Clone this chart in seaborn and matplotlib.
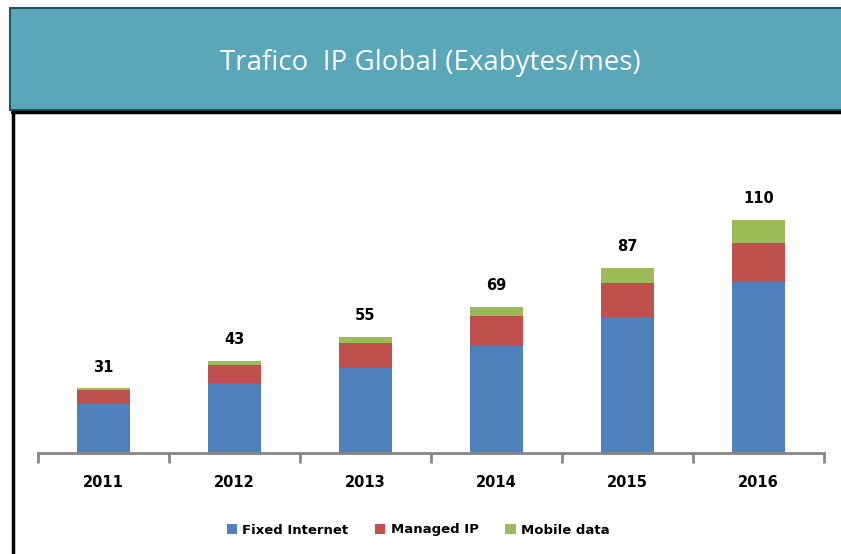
import numpy as np
import pandas as pd
import matplotlib
matplotlib.use("Agg")
import matplotlib.pyplot as plt
from matplotlib.patches import Rectangle
import seaborn as sns

# data (Exabytes per month)
years = ["2011", "2012", "2013", "2014", "2015", "2016"]
fixed_internet = [23.1, 33.0, 40.3, 50.5, 64.2, 80.7]
managed_ip = [6.8, 8.5, 11.7, 14.2, 16.0, 18.4]
mobile_data = [0.6, 1.9, 2.8, 4.2, 7.1, 10.9]
totals = [31, 43, 55, 69, 87, 110]
series_names = ["Fixed Internet", "Managed IP", "Mobile data"]

# colours
blue = "#4F81BD"
red = "#C0504D"
green = "#9BBB59"
teal = "#5BA7BA"

df = pd.DataFrame({
    "year": years,
    "fixed": fixed_internet,
    "managed": managed_ip,
    "mobile": mobile_data,
})
df["lvl2"] = df["fixed"] + df["managed"]
df["lvl3"] = df["lvl2"] + df["mobile"]

sns.set_style("white")
plt.rcParams["font.family"] = ["DejaVu Sans"]
plt.rcParams["text.color"] = "black"
plt.rcParams["xtick.color"] = "black"

W, H = 841, 554
fig = plt.figure(figsize=(W / 100, H / 100), dpi=100)

# banner and frame
fig.patches.append(Rectangle((10 / W, 1 - 110 / H), 840 / W, 102 / H,
                             transform=fig.transFigure, facecolor=teal,
                             edgecolor="#1F5464", linewidth=1.5, zorder=0))
fig.add_artist(plt.Line2D([13 / W, 13 / W], [0, 1 - 112 / H], color="black",
                          linewidth=2.5, transform=fig.transFigure))
fig.add_artist(plt.Line2D([12 / W, 1], [1 - 112 / H, 1 - 112 / H], color="black",
                          linewidth=2.5, transform=fig.transFigure))
fig.text(430 / W, 1 - 63 / H, "Trafico  IP Global (Exabytes/mes)", color="white",
         fontsize=20, ha="center", va="center", family=["Open Sans", "DejaVu Sans"])

# plot area
left, right = 38, 824
base, top = 453, 150
ax = fig.add_axes([left / W, 1 - base / H, (right - left) / W, (base - top) / H])
ax.set_facecolor("none")

px_per_unit = 2.118
ymax = (base - top) / px_per_unit

# stacked bars drawn back to front
bar_kw = dict(width=0.41, saturation=1, linewidth=0, ax=ax)
sns.barplot(data=df, x="year", y="lvl3", color=green, label=series_names[2], **bar_kw)
sns.barplot(data=df, x="year", y="lvl2", color=red, label=series_names[1], **bar_kw)
sns.barplot(data=df, x="year", y="fixed", color=blue, label=series_names[0], **bar_kw)
if ax.get_legend() is not None:
    ax.get_legend().remove()

for i, t in enumerate(totals):
    ax.annotate(str(t), (i, df["lvl3"][i]), xytext=(0, 10), textcoords="offset points",
                ha="center", va="bottom", fontsize=10.5, fontweight="bold", color="black")

ax.set_xlim(-0.5, len(years) - 0.5)
ax.set_ylim(0, ymax)
ax.set_xlabel("")
ax.set_ylabel("")
ax.set_yticks([])
for s in ["top", "left", "right"]:
    ax.spines[s].set_visible(False)
ax.spines["bottom"].set_color("#868686")
ax.spines["bottom"].set_linewidth(2)
ax.set_xticks(np.arange(-0.5, len(years), 1.0), minor=True)
ax.tick_params(axis="x", which="minor", bottom=True, length=7, width=2,
               color="#868686", direction="out")
ax.tick_params(axis="x", which="major", length=0, pad=16, labelsize=10.5, labelcolor="black")
for lab in ax.get_xticklabels():
    lab.set_fontweight("bold")

handles, labels = ax.get_legend_handles_labels()
order = [labels.index(n) for n in series_names]
leg = fig.legend([handles[k] for k in order], [labels[k] for k in order],
                 loc="center", bbox_to_anchor=(418 / W, 1 - 530 / H), ncol=3,
                 frameon=False, handlelength=0.8, handleheight=0.8, handletextpad=0.4,
                 columnspacing=2.0, prop={"weight": "bold", "size": 9.5})
for txt in leg.get_texts():
    txt.set_color("black")

fig.savefig("out.png", dpi=100)
